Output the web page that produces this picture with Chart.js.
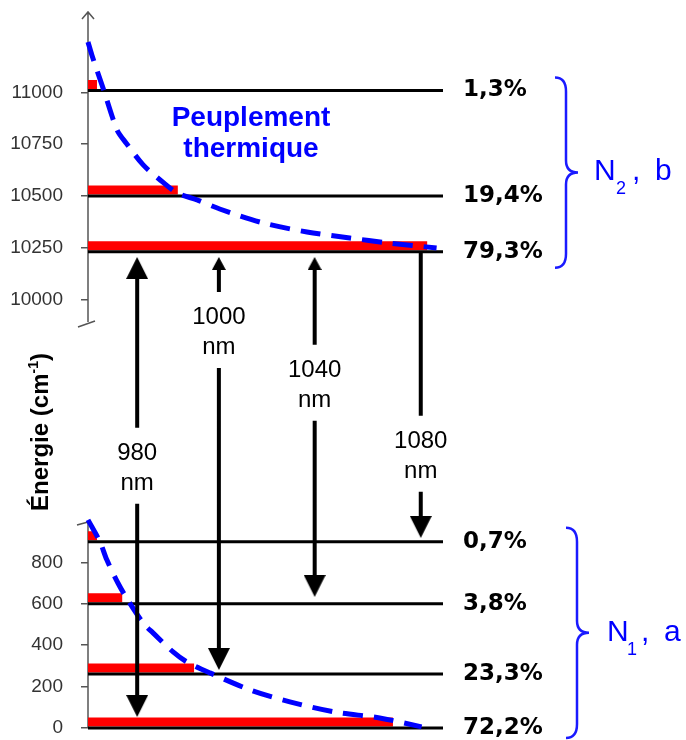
<!DOCTYPE html>
<html>
<head>
<meta charset="utf-8">
<style>
html, body { margin: 0; padding: 0; background: #fff; }
canvas { display: block; }
</style>
<script src="https://cdn.jsdelivr.net/npm/chart.js@4"></script>
</head>
<body>
<canvas id="levels" width="686" height="740"></canvas>
<script>
// Stark levels (cm-1) and their thermal populations
const upperLevels = [11010, 10500, 10230];
const upperShares = ['1,3%', '19,4%', '79,3%'];
const upperBars = [2.1, 21, 79.3];
const lowerLevels = [900, 600, 260, 0];
const lowerShares = ['0,7%', '3,8%', '23,3%', '72,2%'];
const lowerBars = [2.1, 8, 24.8, 71.3];

const lowerTicks = [0, 200, 400, 600, 800];
const upperTicks = [10000, 10250, 10500, 10750, 11000];

// Boltzmann curves (x = population, y = cm-1)
const upperCurveX = [0, 0.9, 3.5, 6.8, 8.9, 12.9, 16.6, 20.8, 25.5, 30.8, 40.9, 51.2, 61.2, 70.1, 81.5];
const upperCurveY = [11244, 11181, 11022, 10819, 10756, 10650, 10582, 10515, 10481, 10437, 10370, 10326, 10297, 10273, 10249];
const lowerCurveX = [0, 2.8, 4.4, 7.0, 9.3, 12.9, 15.2, 19.9, 23.1, 28.5, 37.9, 47.2, 57.7, 68.2, 78.0];
const lowerCurveY = [1005, 899, 812, 700, 618, 507, 459, 367, 319, 266, 184, 126, 77, 48, 5];

// transitions (nm), where they sit on the population axis, start and end (cm-1)
const lineNames = ['980', '1000', '1040', '1080'];
const lineX = [11.5, 30.6, 53, 77.8];
const lineFrom = [10205, 10205, 10205, 10230];
const lineTo = [53, 280, 633, 918];

// ---- layout ----
const GAP = 7930;            // shift of the upper part of the broken axis
const K = 0.207;             // px per axis unit
const XMAX = 83;
const axisValue = e => e > 5000 ? e - GAP : e;
const px = p => p / K;       // pixels -> axis units
const labelMid = [1266, 1923, 1667, 1324];   // where the nm labels sit on the broken axis

function head(w, h) {
  const c = document.createElement('canvas');
  c.width = w; c.height = h;
  const g = c.getContext('2d');
  g.fillStyle = '#000';
  g.beginPath(); g.moveTo(0, 0); g.lineTo(w, 0); g.lineTo(w / 2, h); g.closePath(); g.fill();
  return c;
}
const bigHead = head(22, 22);
const smallHead = head(14, 13);
const topHead = [bigHead, smallHead, smallHead, null];

const gapPt = x => ({ x: x, y: null });

const barData = [], levelData = [];
upperLevels.concat(lowerLevels).forEach((e, i) => {
  const v = axisValue(e);
  const len = upperBars.concat(lowerBars)[i];
  barData.push({ x: 0, y: v + px(6) }, { x: len, y: v + px(6) }, gapPt(len));
  levelData.push({ x: 0, y: v }, { x: XMAX, y: v }, gapPt(XMAX));
});

const curveData = [];
upperCurveX.forEach((x, i) => curveData.push({ x: x, y: axisValue(upperCurveY[i]) }));
curveData.push(gapPt(81.5));
lowerCurveX.forEach((x, i) => curveData.push({ x: x, y: lowerCurveY[i] }));

const shaftData = [], headData = [], headStyle = [], headRot = [];
lineNames.forEach((n, i) => {
  const x = lineX[i];
  const from = axisValue(lineFrom[i]);
  const to = axisValue(lineTo[i]);
  const th = topHead[i];
  const top = th ? from - px(th.height / 2) : from;
  const bot = to + px(bigHead.height / 2);
  shaftData.push({ x: x, y: top }, { x: x, y: labelMid[i] + px(38) }, gapPt(x));
  shaftData.push({ x: x, y: labelMid[i] - px(38) }, { x: x, y: bot }, gapPt(x));
  if (th) { headData.push({ x: x, y: top }); headStyle.push(th); headRot.push(180); }
  headData.push({ x: x, y: bot }); headStyle.push(bigHead); headRot.push(0);
});

const decor = {
  id: 'decor',
  beforeDatasetsDraw(chart) {
    const { ctx, scales: { x, y } } = chart;
    const ax = x.getPixelForValue(0);
    ctx.save();
    ctx.strokeStyle = '#555';
    ctx.lineWidth = 1.5;
    ctx.beginPath();
    // upper axis piece with its arrow tip and break mark
    const t1 = y.getPixelForValue(3459), b1 = y.getPixelForValue(1961);
    ctx.moveTo(ax, t1); ctx.lineTo(ax, b1);
    ctx.moveTo(ax - 6, t1 + 7); ctx.lineTo(ax, t1); ctx.lineTo(ax + 6, t1 + 7);
    ctx.moveTo(ax - 10, b1 + 5); ctx.lineTo(ax + 7, b1 - 1);
    // lower axis piece
    const t2 = y.getPixelForValue(990), b2 = y.getPixelForValue(0);
    ctx.moveTo(ax, t2); ctx.lineTo(ax, b2);
    ctx.moveTo(ax - 11, t2 + 2); ctx.lineTo(ax, t2 - 1);
    ctx.stroke();
    ctx.restore();
  },
  afterDatasetsDraw(chart) {
    const { ctx, scales: { x, y } } = chart;
    ctx.save();
    ctx.fillStyle = '#000';
    ctx.textAlign = 'center';
    ctx.textBaseline = 'alphabetic';
    ctx.font = '24px "Liberation Sans", Arial';
    lineNames.forEach((n, i) => {
      const cx = x.getPixelForValue(lineX[i]);
      const m = y.getPixelForValue(labelMid[i]);
      ctx.fillText(n, cx, m - 6);
      ctx.fillText('nm', cx, m + 24);
    });

    // populations
    ctx.textAlign = 'left';
    ctx.font = 'bold 23px "DejaVu Sans"';
    const rx = x.getPixelForValue(XMAX) + 20;
    upperLevels.forEach((e, i) => ctx.fillText(upperShares[i], rx, y.getPixelForValue(axisValue(e)) + 6));
    lowerLevels.forEach((e, i) => ctx.fillText(lowerShares[i], rx, y.getPixelForValue(e) + 6));

    // title inside plot
    ctx.fillStyle = '#0000ff';
    ctx.textAlign = 'center';
    ctx.font = 'bold 28px "Liberation Sans", Arial';
    ctx.fillText('Peuplement', 251, 126);
    ctx.fillText('thermique', 251, 157);

    // braces
    ctx.strokeStyle = '#1a1aff';
    ctx.lineWidth = 2.5;
    function brace(bx, top, bot) {
      const mid = (top + bot) / 2;
      ctx.beginPath();
      ctx.moveTo(bx - 11, top);
      ctx.quadraticCurveTo(bx, top, bx, top + 14);
      ctx.lineTo(bx, mid - 12);
      ctx.quadraticCurveTo(bx, mid, bx + 12, mid);
      ctx.quadraticCurveTo(bx, mid, bx, mid + 12);
      ctx.lineTo(bx, bot - 14);
      ctx.quadraticCurveTo(bx, bot, bx - 11, bot);
      ctx.stroke();
      return mid;
    }
    const u1 = y.getPixelForValue(axisValue(upperLevels[0]));
    const u3 = y.getPixelForValue(axisValue(upperLevels[2]));
    const mu = brace(566, u1 - 13, u3 + 16);
    const l1 = y.getPixelForValue(lowerLevels[0]);
    const l4 = y.getPixelForValue(lowerLevels[3]);
    const ml = brace(577, l1 - 14, l4 + 10);

    ctx.textAlign = 'left';
    ctx.fillStyle = '#0000ff';
    ctx.font = '30px "Liberation Sans", Arial';
    ctx.fillText('N', 594, mu + 7);
    ctx.fillText(',', 632, mu + 7);
    ctx.fillText('b', 655, mu + 7);
    ctx.fillText('N', 607, ml + 8);
    ctx.fillText(',', 641, ml + 8);
    ctx.fillText('a', 664, ml + 8);
    ctx.font = '18px "Liberation Sans", Arial';
    ctx.fillText('2', 616, mu + 21);
    ctx.fillText('1', 627, ml + 22);

    // axis title
    ctx.fillStyle = '#000';
    ctx.translate(48, 432);
    ctx.rotate(-Math.PI / 2);
    const big = 'bold 24px "Liberation Sans", Arial';
    const sup = 'bold 14px "Liberation Sans", Arial';
    ctx.font = big;
    const w1 = ctx.measureText('Énergie (cm').width;
    const w3 = ctx.measureText(')').width;
    ctx.font = sup;
    const w2 = ctx.measureText('-1').width;
    let sx = -(w1 + w2 + w3) / 2;
    ctx.textAlign = 'left';
    ctx.font = big;
    ctx.fillText('Énergie (cm', sx, 0);
    ctx.font = sup;
    ctx.fillText('-1', sx + w1, -10);
    ctx.font = big;
    ctx.fillText(')', sx + w1 + w2, 0);
    ctx.restore();
  }
};

Chart.defaults.font.family = '"Liberation Sans", Arial, sans-serif';

new Chart(document.getElementById('levels'), {
  type: 'line',
  data: {
    datasets: [
      { data: headData, showLine: false, pointStyle: headStyle, rotation: headRot, pointRadius: 10, clip: false },
      { data: shaftData, borderColor: '#000', borderWidth: 4, borderCapStyle: 'butt', pointRadius: 0, clip: false },
      { data: curveData, borderColor: '#0000ff', borderWidth: 5, borderDash: [20, 11], borderCapStyle: 'butt', tension: 0.3, pointRadius: 0, clip: false },
      { data: levelData, borderColor: '#000', borderWidth: 3, borderCapStyle: 'butt', pointRadius: 0, clip: false },
      { data: barData, borderColor: '#ff0000', borderWidth: 9, borderCapStyle: 'butt', pointRadius: 0, clip: false }
    ]
  },
  options: {
    responsive: false,
    animation: false,
    devicePixelRatio: 1,
    layout: { autoPadding: false, padding: { left: 0, right: 243, top: 8, bottom: 4 } },
    plugins: { legend: { display: false }, tooltip: { enabled: false } },
    scales: {
      x: { type: 'linear', min: 0, max: XMAX, display: false },
      y: {
        type: 'linear',
        min: -39,
        max: 3478,
        afterFit: s => { s.width = 88; s.paddingTop = 0; s.paddingBottom = 0; },
        afterBuildTicks: s => {
          s.ticks = lowerTicks.concat(upperTicks.map(axisValue)).map(v => ({ value: v }));
        },
        ticks: {
          callback: v => v > 1500 ? v + GAP : v,
          color: '#333',
          font: { size: 19 },
          padding: 18,
          autoSkip: false
        },
        grid: { drawOnChartArea: false, tickLength: 7, color: '#555', lineWidth: 1.5 },
        border: { display: false }
      }
    }
  },
  plugins: [decor]
});
</script>
</body>
</html>
